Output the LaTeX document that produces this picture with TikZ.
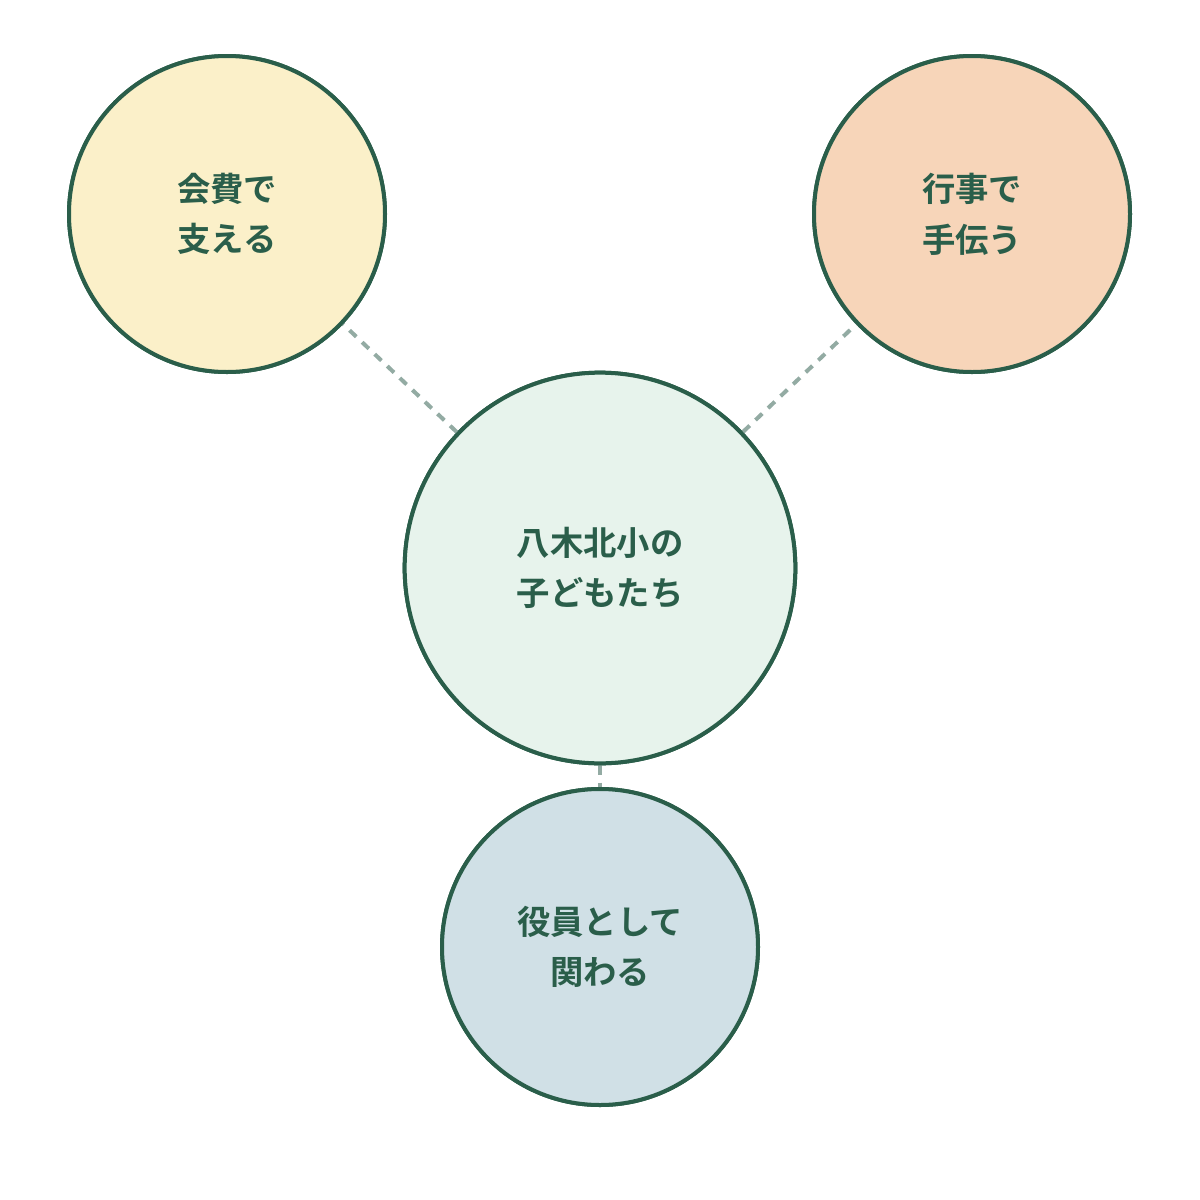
\documentclass[tikz,border=0pt]{standalone}
\usepackage{fontspec}
\setmainfont{Noto Sans CJK JP}[BoldFont={Noto Sans CJK JP Bold}]
\definecolor{ringgreen}{HTML}{2A5E4A}
\definecolor{linkgray}{HTML}{93ABA3}
\definecolor{fillyellow}{HTML}{FBF0C9}
\definecolor{fillpeach}{HTML}{F7D5B9}
\definecolor{fillmint}{HTML}{E7F3EC}
\definecolor{fillblue}{HTML}{D0E0E6}
\tikzset{every picture/.style={line width=0.75pt}}
\tikzset{
  ring/.style={circle, draw=ringgreen, line width=3pt, minimum size=237pt, inner sep=0pt,
    align=center, text=ringgreen, font=\bfseries\fontsize{25}{38}\selectfont},
  link/.style={draw=linkgray, line width=3pt, dash pattern=on 7pt off 6pt}
}
\begin{document}
\begin{tikzpicture}[x=0.75pt,y=0.75pt,yscale=-1,xscale=1]
\useasboundingbox (0,0) rectangle (1200,1200);

% connectors first, circles painted over them
\path (600,568) node[ring, minimum size=293pt] (kids) {};
\path (227,214) node[ring] (fee) {};
\path (972,214) node[ring] (event) {};
\path (600,947) node[ring] (officer) {};
\draw[link] (kids) -- (fee);
\draw[link] (kids) -- (event);
\draw[link] (kids) -- (officer);

% Circles
\node[ring, fill=fillmint, minimum size=293pt] at (kids) {八木北小の\\子どもたち};
\node[ring, fill=fillyellow] at (fee) {会費で\\支える};
\node[ring, fill=fillpeach] at (event) {行事で\\手伝う};
\node[ring, fill=fillblue] at (officer) {役員として\\関わる};
\end{tikzpicture}
\end{document}
